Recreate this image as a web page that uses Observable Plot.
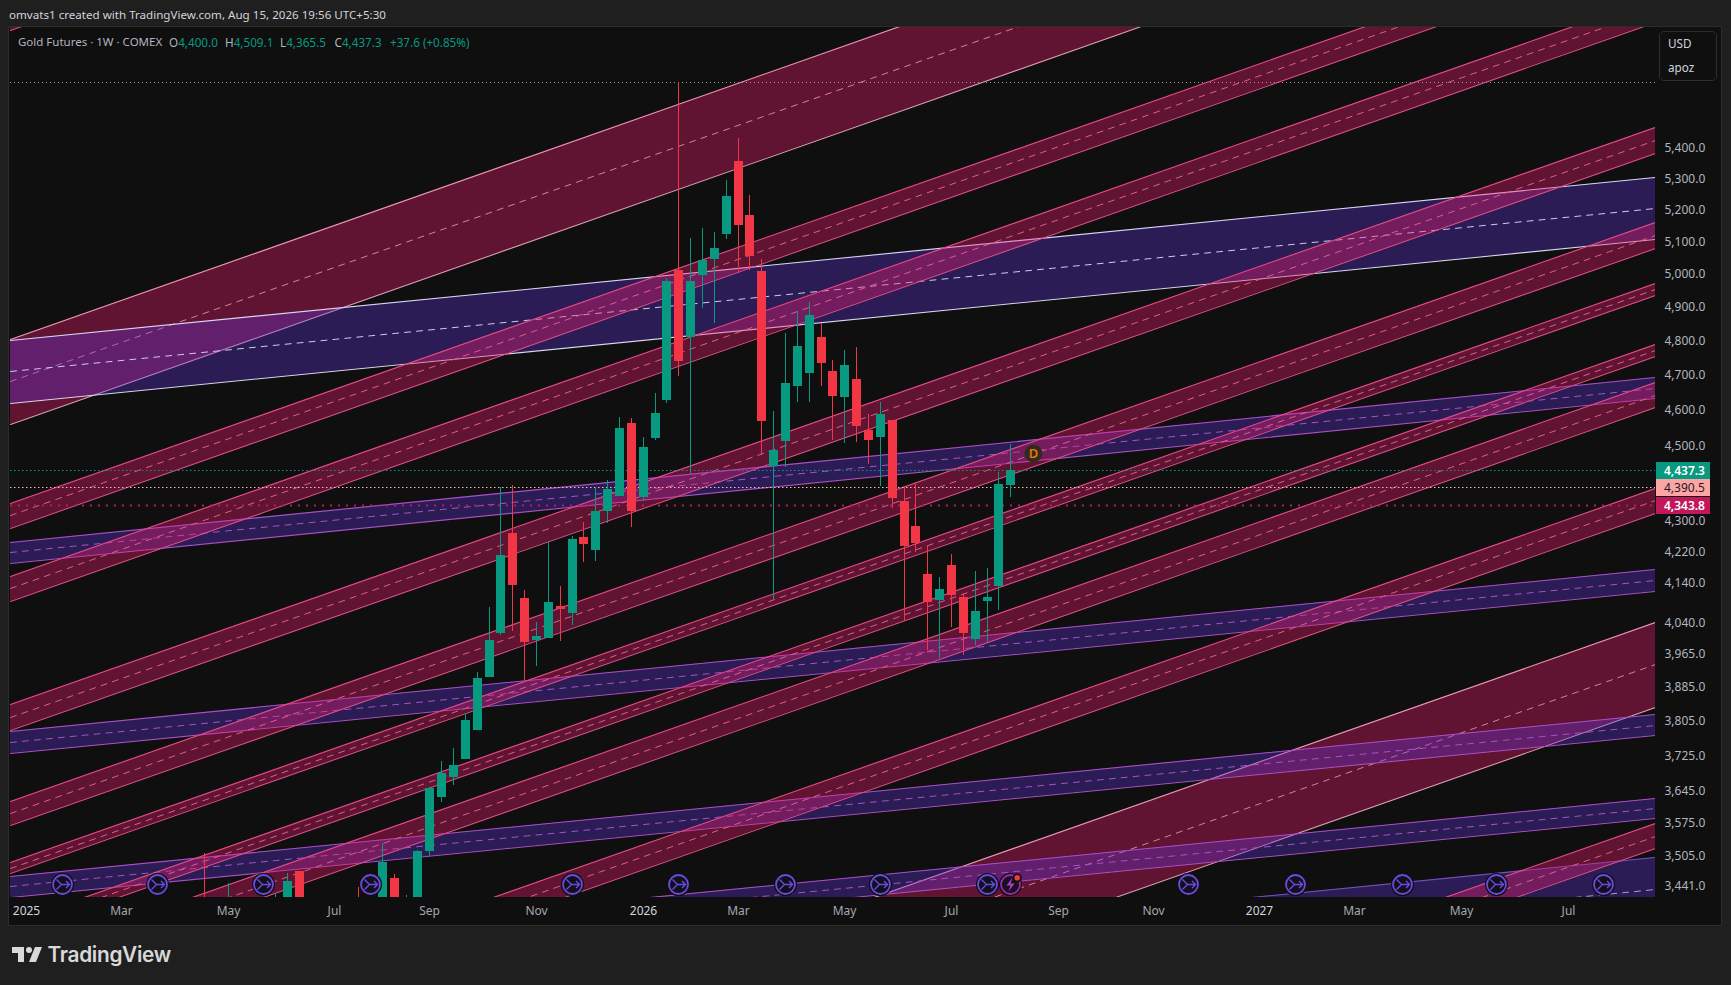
<!DOCTYPE html>
<html>
<head>
<meta charset="utf-8">
<script src="https://cdn.jsdelivr.net/npm/d3@7"></script>
<script src="https://cdn.jsdelivr.net/npm/@observablehq/plot@0.6"></script>
<style>
  html,body{margin:0;padding:0;background:#1f1f1f;width:1731px;height:985px;overflow:hidden;font-family:"Noto Sans",sans-serif;}
  #pane{position:absolute;left:8px;top:26px;width:1714px;height:900px;box-sizing:border-box;background:#0f0f0f;border:1.5px solid #2c2c2c;}
  #chart{position:absolute;left:0;top:0;}
  .t{position:absolute;white-space:nowrap;font-size:11.7px;line-height:16px;}
  .gray{color:#b2b5be;} .green{color:#089981;}
  #unit{position:absolute;left:1659px;top:31px;width:58px;height:50px;box-sizing:border-box;border:1.5px solid #2e2e2e;border-radius:5px;background:#0f0f0f;color:#d1d4dc;}
  .tag{position:absolute;left:1656px;width:54px;height:17px;line-height:17px;font-size:12px;padding-left:8px;box-sizing:border-box;}
</style>
</head>
<body>
<div id="pane"></div>
<div id="chart"></div>
<div class="t" style="left:9px;top:7px;color:#d1d4dc;font-size:11.6px;">omvats1 created with TradingView.com, Aug 15, 2026 19:56 UTC+5:30</div>
<div class="t gray" style="left:18px;top:33.5px;font-size:11.5px;">Gold Futures · 1W · COMEX</div>
<div class="t gray" style="left:169px;top:33.5px;">O<span class="green">4,400.0</span></div>
<div class="t gray" style="left:225px;top:33.5px;">H<span class="green">4,509.1</span></div>
<div class="t gray" style="left:280px;top:33.5px;">L<span class="green">4,365.5</span></div>
<div class="t gray" style="left:334.5px;top:33.5px;">C<span class="green">4,437.3</span></div>
<div class="t green" style="left:390px;top:33.5px;">+37.6 (+0.85%)</div>
<div id="unit"><div class="t" style="left:8px;top:3px;">USD</div><div class="t" style="left:8px;top:27px;">apoz</div></div>
<svg style="position:absolute;left:10px;top:941px;" width="36" height="28" viewBox="0 0 36 28"><path fill="#d9d9d9" d="M14 6H2v6h6v9h6V6Zm12 15h-7l6-15h7l-6 15Zm-7-9a3 3 0 1 0 0-6 3 3 0 0 0 0 6Z"/></svg>
<div class="t" style="left:47.5px;top:942px;font-family:Inter,sans-serif;font-weight:600;font-size:20.8px;line-height:26px;color:#d9d9d9;letter-spacing:-0.3px;">TradingView</div>
<script>
// ---- candles (weeks before the last bar, oldest first)
const lastWeek = new Date(Date.UTC(2026, 7, 10));
const weeksBack = [68,66,62,61,60,55,53,52,51,50,49,48,47,46,45,44,43,42,41,40,39,38,37,36,35,34,33,32,31,30,29,28,27,26,25,24,23,22,21,20,19,18,17,16,15,14,13,12,11,10,9,8,7,6,5,4,3,2,1,0];
const opens  = [3330,3250,3310,3330,3470.4,3350,3360,3455.6,3385,3410,3512.8,3630.5,3675.5,3716.1,3782.6,3907,4014,4266.2,4099.8,3996,4001,4080.8,4062.8,4255.7,4221.9,4324,4363.4,4562.8,4360.7,4521,4627,5009.6,4808.6,4994.3,5043.3,5119.7,5354.5,5180.9,5006.6,4444.6,4512.6,4666.9,4704.4,4808.6,4710,4635.3,4687,4543.3,4523.8,4571,4350.2,4284.5,4160.9,4095,4183.8,4102.3,3998.7,4092.4,4130.4,4393.2];
const highs  = [3508,3444.3,3423.9,3465.5,3470.4,3437,3530.7,3464,3419.6,3515,3653,3711.5,3740.9,3822,3919,4077.6,4386.9,4393,4120,4040.6,4245.2,4130.4,4258.3,4295,4385,4406.8,4579.6,4576.8,4523.8,4646.8,4985,5620,5108.4,5139.9,5127,5292.8,5430,5244,5043.3,4596,4820.4,4885.8,4912.4,4850.2,4741.7,4770.4,4779,4587.9,4621.4,4571,4387.7,4398.5,4234.7,4153.1,4211.7,4112.4,4168.5,4176.2,4428.4,4504];
const lows   = [3265,3240,3300,3320,3360,3300,3350,3370,3350,3400,3502,3619.6,3657.5,3716.1,3782.6,3907,4008.5,4019,3899.8,3933.5,4001,3993.7,4033,4191.4,4194,4292.6,4363.4,4282,4350.2,4515.4,4618.6,4695.6,4423,4894.6,4850.2,5104,5000.4,5009.6,4474.3,4097.4,4441.9,4621.4,4621.4,4666.9,4515.4,4507,4509.8,4450,4390.4,4332,4043,4216.8,3971.7,3952.6,4028,3959.8,3983.8,3991.3,4070.2,4360.7];
const closes = [3298,3330,3360,3449.2,3380,3340,3490,3380,3410,3512.8,3650.8,3684.5,3702.6,3805.8,3904.6,3996.2,4209.2,4132.8,3991.3,4006,4090,4072.7,4250.5,4237.4,4324,4382.3,4548.9,4324,4495.9,4590.7,4976,4739,4976,5040.2,5076.9,5240.8,5149,5052.5,4568.3,4487.8,4675.5,4782,4873.9,4733,4638.2,4727.3,4554.5,4515.4,4587.9,4358,4232,4240,4090,4122.6,4107.4,4013.5,4067.7,4102.3,4395.8,4432.9];

// ---- rising channels (price at the left and right edge of the chart)
const pinkNames       = ["Z","B","C","D","F","G","H","I","J","L"];
const pinkLeftTop     = [6109,4345.7,4155.4,3842.2,3620.8,3488.8,3361.5,3283.6,3078.9,2508.2];
const pinkLeftMid     = [5953,4312.7,4123.8,3812.2,3594.4,3477.1,3349.6,3258.6,3055.4,2489.1];
const pinkLeftBottom  = [5800,4279.8,4092.4,3782.1,3568.2,3465.4,3337.6,3233.8,3032.2,2470.2];
const pinkRightTop    = [8701,6189.6,5918.6,5466.4,5158.1,4968,4787.7,4677,4385.4,3572.5];
const pinkRightMid    = [8478.6,6142.5,5873.5,5422.5,5117.4,4950.7,4770.2,4641.5,4352,3545.3];
const pinkRightBottom = [8261,6095.8,5828.9,5378.6,5076.9,4933.2,4752.8,4606.1,4319,3518.4];

const wideNames       = ["A","K"];
const wideLeftTop     = [4803.6,2836.8];
const wideLeftMid     = [4680.7,2764.2];
const wideLeftBottom  = [4560.5,2693.3];
const wideRightTop    = [6841.7,4040.8];
const wideRightMid    = [6666.8,3937.2];
const wideRightBottom = [6495.6,3836.3];

// ---- slow channels
const purpleNames       = ["P2","P3","P4","P5"];
const purpleLeftTop     = [4242.3,3779.8,3459.3,3286.8];
const purpleLeftMid     = [4215.7,3754.5,3437.2,3266.4];
const purpleLeftBottom  = [4189,3729.4,3415.2,3246.3];
const purpleRightTop    = [4690.8,4172.1,3819.3,3628.8];
const purpleRightMid    = [4661.9,4144.9,3793.7,3606];
const purpleRightBottom = [4632.9,4117.9,3770.6,3583.4];

const paleNames       = ["P1"];
const paleLeftTop     = [4799.4];
const paleLeftMid     = [4708];
const paleLeftBottom  = [4618.3];
const paleRightTop    = [5301];
const paleRightMid    = [5201.5];
const paleRightBottom = [5104];

const dimNames       = ["P6"];
const dimLeftTop     = [3168.3];
const dimLeftMid     = [3107.5];
const dimLeftBottom  = [3048];
const dimRightTop    = [3499];
const dimRightMid    = [3432];
const dimRightBottom = [3366];

// ---- axes
const priceTicks = [5400,5300,5200,5100,5000,4900,4800,4700,4600,4500,4300,4220,4140,4040,3965,3885,3805,3725,3645,3575,3505,3441];
const monthTicks = ["2025-03-03","2025-05-05","2025-07-07","2025-09-01","2025-11-03","2026-03-02","2026-05-04","2026-07-06","2026-09-07","2026-11-02","2027-03-01","2027-05-03","2027-07-05"];
const yearTicks  = ["2025-01-06","2026-01-05","2027-01-04"];

// ---- price lines and tags
const allTimeHigh = 5620;
const lineLevels = [4432.9,4386.8,4340];
const tagTexts  = ["4,437.3","4,390.5","4,343.8"];

// ---- event markers, weeks before the last bar (negative = future)
const rollWeeks = [80,72,63,54,37,28,19,11,2,-15,-24,-33,-41,-50];
const newsWeeks = [0];
const divWeeks  = [-2];
const markerPrice = 3442.2;
const dividendPrice = 4480.5;

const leftEdge  = new Date(Date.UTC(2024, 11, 27, 12));
const rightEdge = new Date(Date.UTC(2027, 7, 25, 14));
const bottomPrice = 3415.2, topPrice = 5810.7;

const bars = weeksBack.map((n,i)=>({date: d3.utcMonday.offset(lastWeek,-n), o:opens[i], h:highs[i], l:lows[i], c:closes[i]}));
const upBars = bars.filter(d=>d.c>=d.o), downBars = bars.filter(d=>d.c<d.o);
const onWeeks = (a,p) => a.map(n=>({date:d3.utcMonday.offset(lastWeek,-n), p}));

function rows(names,lt,lm,lb,rt,rm,rb){
  return names.flatMap((band,i)=>[
    {band,x:leftEdge,top:lt[i],mid:lm[i],bottom:lb[i]},
    {band,x:rightEdge,top:rt[i],mid:rm[i],bottom:rb[i]}
  ]);
}
function bandMarks(data,fill,alpha,line,dash,width=1.1){
  return [
    Plot.areaY(data,{x:"x",y1:"top",y2:"bottom",z:"band",fill,fillOpacity:alpha,clip:true}),
    Plot.line(data,{x:"x",y:"top",z:"band",stroke:line,strokeWidth:width,clip:true}),
    Plot.line(data,{x:"x",y:"bottom",z:"band",stroke:line,strokeWidth:width,clip:true}),
    Plot.line(data,{x:"x",y:"mid",z:"band",stroke:dash,strokeWidth:1,strokeDasharray:"6,6",clip:true})
  ];
}
const mergeIcon = {draw(c){
  c.moveTo(-6,-5); c.lineTo(-1,0); c.lineTo(-6,5);
  c.moveTo(-1,0); c.lineTo(7,0);
  c.moveTo(3.5,-3.5); c.lineTo(7,0); c.lineTo(3.5,3.5);
}};
const boltIcon = {draw(c){
  c.moveTo(2,-7); c.lineTo(-4,1); c.lineTo(0,1); c.lineTo(-2,7); c.lineTo(4,-1); c.lineTo(0,-1); c.closePath();
}};
const parse = s => new Date(s+"T00:00:00Z");
const fmtMonth = d3.utcFormat("%b"), fmtYear = d3.utcFormat("%Y");

const chart = Plot.plot({
  width:1731, height:985,
  marginLeft:10, marginRight:76, marginTop:27, marginBottom:88,
  style:{background:"transparent",fontFamily:'"Noto Sans",sans-serif',fontSize:"12px",overflow:"visible"},
  x:{type:"utc",domain:[leftEdge,rightEdge],round:true},
  y:{type:"log",domain:[bottomPrice,topPrice],round:true},
  marks:[
    Plot.axisY(priceTicks,{anchor:"right",tickSize:0,tickPadding:9,dy:1,tickFormat:d3.format(",.1f"),label:null,fill:"#b2b5be",fontSize:12}),
    Plot.axisX(monthTicks.map(parse),{anchor:"bottom",tickSize:0,tickPadding:9,tickFormat:fmtMonth,label:null,fill:"#a5a8b0",fontSize:12}),
    Plot.axisX(yearTicks.map(parse),{anchor:"bottom",tickSize:0,tickPadding:9,tickFormat:fmtYear,label:null,fill:"#d1d4dc",fontSize:12}),

    ...bandMarks(rows(wideNames,wideLeftTop,wideLeftMid,wideLeftBottom,wideRightTop,wideRightMid,wideRightBottom),"#f01e6e",0.36,"#e79ab5","#d97f9f"),
    ...bandMarks(rows(paleNames,paleLeftTop,paleLeftMid,paleLeftBottom,paleRightTop,paleRightMid,paleRightBottom),"#6837e5",0.33,"#d9d4f0","#d0cbea"),
    ...bandMarks(rows(purpleNames,purpleLeftTop,purpleLeftMid,purpleLeftBottom,purpleRightTop,purpleRightMid,purpleRightBottom),"#6837e5",0.33,"#ab4fc6","#a652c4"),
    ...bandMarks(rows(dimNames,dimLeftTop,dimLeftMid,dimLeftBottom,dimRightTop,dimRightMid,dimRightBottom),"#6837e5",0.33,"#7450b8","#a79ad8"),
    ...bandMarks(rows(pinkNames,pinkLeftTop,pinkLeftMid,pinkLeftBottom,pinkRightTop,pinkRightMid,pinkRightBottom),"#f01e6e",0.36,"#de4c86","#d9608e"),

    Plot.ruleY([allTimeHigh],{stroke:"#9a9a9a",strokeDasharray:"1,3"}),
    Plot.ruleY([lineLevels[0]],{stroke:"#089981",strokeDasharray:"1.5,2.5"}),
    Plot.ruleY([lineLevels[1]],{stroke:"#fbbcb0",strokeDasharray:"1.5,2.5"}),
    Plot.ruleY([lineLevels[2]],{stroke:"#c2185b",strokeWidth:2,strokeDasharray:"2,6"}),

    Plot.ruleX(upBars,{x:"date",y1:"l",y2:"h",stroke:"#089981",strokeWidth:1,clip:true}),
    Plot.ruleX(downBars,{x:"date",y1:"l",y2:"h",stroke:"#f23645",strokeWidth:1,clip:true}),
    Plot.ruleX(upBars,{x:"date",y1:"o",y2:"c",stroke:"#089981",strokeWidth:9,clip:true}),
    Plot.ruleX(downBars,{x:"date",y1:"o",y2:"c",stroke:"#f23645",strokeWidth:9,clip:true}),

    Plot.dot(onWeeks(divWeeks,dividendPrice),{x:"date",y:"p",r:9,dx:-1,fill:"#33291f"}),
    Plot.text(onWeeks(divWeeks,dividendPrice),{x:"date",y:"p",dx:-1,text:()=>"D",fill:"#e07a10",fontSize:13,fontWeight:600}),

    Plot.dot(onWeeks(rollWeeks,markerPrice),{x:"date",y:"p",r:11.5,fill:"#0f0f0f"}),
    Plot.dot(onWeeks(rollWeeks,markerPrice),{x:"date",y:"p",r:9.5,fill:"#12101c",stroke:"#6a4be0",strokeWidth:1.8}),
    Plot.dot(onWeeks(rollWeeks,markerPrice),{x:"date",y:"p",r:9,symbol:mergeIcon,fill:"none",stroke:"#6a4be0",strokeWidth:1.4}),

    Plot.dot(onWeeks(newsWeeks,markerPrice),{x:"date",y:"p",r:11.5,fill:"#0f0f0f"}),
    Plot.dot(onWeeks(newsWeeks,markerPrice),{x:"date",y:"p",r:9.5,fill:"#1a1020",stroke:"#9c27b0",strokeWidth:1.8}),
    Plot.dot(onWeeks(newsWeeks,markerPrice),{x:"date",y:"p",r:9,symbol:boltIcon,fill:"#b43bd3",stroke:"none"}),
    Plot.dot(onWeeks(newsWeeks,markerPrice),{x:"date",y:"p",r:4.5,dx:6.7,dy:-6.7,fill:"#0f0f0f"}),
    Plot.dot(onWeeks(newsWeeks,markerPrice),{x:"date",y:"p",r:2.8,dx:6.7,dy:-6.7,fill:"#f23645"})
  ]
});
document.getElementById("chart").appendChild(chart);

const yScale = chart.scale("y");
const tagStyle = [["#089981","#fff",600],["#fca5a5","#1c1c1c",400],["#c2185b","#fff",600]];
lineLevels.forEach((v,i)=>{
  const el = document.createElement("div");
  el.className = "tag";
  el.textContent = tagTexts[i];
  el.style.top = (Math.round(yScale.apply(v))-8)+"px";
  el.style.background = tagStyle[i][0];
  el.style.color = tagStyle[i][1];
  el.style.fontWeight = tagStyle[i][2];
  document.body.appendChild(el);
});
</script>
</body>
</html>
